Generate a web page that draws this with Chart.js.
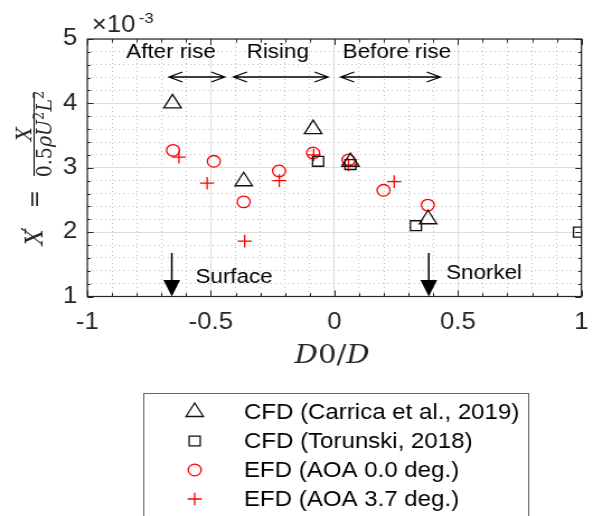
<!DOCTYPE html>
<html lang="en">
<head>
  <meta charset="UTF-8">
  <script src="https://cdn.jsdelivr.net/npm/chart.js"></script>
  <title>X' vs D0/D</title>
  <style>
    body { margin: 0; background: #fff; }
    /* the source figure is slightly wider than tall in its glyphs, so stretch horizontally */
    #wrap {
      width: 530px;
      height: 516px;
      transform: scaleX(1.11887);
      transform-origin: 0 0;
    }
  </style>
</head>
<body>
<div id="wrap"><canvas id="myChart" width="530" height="516"></canvas></div>
<script>
  // values, y in units of 1e-3
  const carricaX = [-0.655, -0.367, -0.086, 0.065, 0.379];
  const carricaY = [4.00, 2.79, 3.60, 3.09, 2.20];
  const torunskiX = [-0.066, 0.065, 0.33, 0.99];
  const torunskiY = [3.10, 3.05, 2.10, 2.00];
  const aoa0X = [-0.653, -0.488, -0.367, -0.224, -0.086, 0.057, 0.199, 0.378];
  const aoa0Y = [3.27, 3.10, 2.47, 2.95, 3.23, 3.12, 2.65, 2.42];
  const aoa37X = [-0.629, -0.515, -0.363, -0.223, -0.084, 0.057, 0.242];
  const aoa37Y = [3.165, 2.76, 1.86, 2.80, 3.20, 3.045, 2.785];

  const seriesNames = ['CFD (Carrica et al., 2019)', 'CFD (Torunski, 2018)', 'EFD (AOA 0.0 deg.)', 'EFD (AOA 3.7 deg.)'];
  const xTickLabels = [-1, -0.5, 0, 0.5, 1];
  const yTickLabels = [1, 2, 3, 4, 5];
  const phaseNames = ['After rise', 'Rising', 'Before rise'];
  const markNames = ['Surface', 'Snorkel'];

  const toPoints = (xs, ys) => xs.map((v, i) => ({ x: v, y: ys[i] }));
  const near = (v, list) => list.some(t => Math.abs(t - v) < 1e-6);

  const AX = '#262626';
  const SANS = '"Liberation Sans", Arial, sans-serif';
  const SERIF = '"DejaVu Serif", serif';

  // annotation placement in data units
  const phaseAt = [
    { cx: -0.661, from: -0.669, to: -0.444 },
    { cx: -0.229, from: -0.408, to: -0.026 },
    { cx: 0.253, from: 0.026, to: 0.428 }
  ];
  const markAt = [
    { ax: -0.658, tx: -0.562, ty: 1.21 },
    { ax: 0.382, tx: 0.452, ty: 1.27 }
  ];

  function arrowHead(ctx, x, y, dir) {
    ctx.moveTo(x - dir * 12, y - 5);
    ctx.lineTo(x, y);
    ctx.lineTo(x - dir * 12, y + 5);
  }

  const boxPlugin = {
    id: 'box',
    beforeDatasetsDraw(chart) {
      const { ctx, chartArea: a, scales: { x, y } } = chart;
      ctx.save();
      ctx.strokeStyle = AX;
      ctx.lineWidth = 1;
      ctx.beginPath();
      x.ticks.forEach(t => {
        const px = Math.round(x.getPixelForValue(t.value)) + 0.5;
        const len = near(t.value, xTickLabels) ? 6 : 3.5;
        ctx.moveTo(px, a.bottom); ctx.lineTo(px, a.bottom - len);
        ctx.moveTo(px, a.top); ctx.lineTo(px, a.top + len);
      });
      y.ticks.forEach(t => {
        const py = Math.round(y.getPixelForValue(t.value)) + 0.5;
        const len = near(t.value, yTickLabels) ? 5.5 : 3;
        ctx.moveTo(a.left, py); ctx.lineTo(a.left + len, py);
        ctx.moveTo(a.right, py); ctx.lineTo(a.right - len, py);
      });
      ctx.stroke();
      ctx.lineWidth = 1.2;
      ctx.strokeRect(a.left, a.top, a.right - a.left, a.bottom - a.top);
      ctx.restore();
    },
    afterDraw(chart) {
      const { ctx, chartArea: a, scales: { x, y } } = chart;
      ctx.save();
      ctx.fillStyle = '#000';
      ctx.strokeStyle = '#000';

      // phase labels with double arrows
      ctx.font = '20px ' + SANS;
      ctx.textAlign = 'center';
      ctx.textBaseline = 'alphabetic';
      ctx.lineWidth = 1.3;
      const ay = y.getPixelForValue(4.41);
      phaseAt.forEach((p, i) => {
        ctx.fillText(phaseNames[i], x.getPixelForValue(p.cx), y.getPixelForValue(4.71));
        const x0 = x.getPixelForValue(p.from), x1 = x.getPixelForValue(p.to);
        ctx.beginPath();
        ctx.moveTo(x0, ay); ctx.lineTo(x1, ay);
        arrowHead(ctx, x0, ay, -1);
        arrowHead(ctx, x1, ay, 1);
        ctx.stroke();
      });

      // surface / snorkel arrows
      ctx.textAlign = 'left';
      markAt.forEach((m, i) => {
        const px = x.getPixelForValue(m.ax);
        const top = y.getPixelForValue(1.676), head = y.getPixelForValue(1.257);
        ctx.lineWidth = 1.5;
        ctx.beginPath();
        ctx.moveTo(px, top); ctx.lineTo(px, head);
        ctx.stroke();
        ctx.beginPath();
        ctx.moveTo(px - 7.5, head); ctx.lineTo(px + 7.5, head); ctx.lineTo(px, a.bottom);
        ctx.closePath();
        ctx.fill();
        ctx.fillText(markNames[i], x.getPixelForValue(m.tx), y.getPixelForValue(m.ty));
      });

      // exponent label
      ctx.fillStyle = AX;
      ctx.font = '23px ' + SANS;
      ctx.fillText('\u00d710', 82, 32);
      ctx.font = '15px ' + SANS;
      ctx.fillText('-3', 124, 23);

      // y title: X' = X / (0.5 rho U^2 L^2)
      ctx.save();
      ctx.translate(37.5, 245);
      ctx.rotate(-Math.PI / 2);
      ctx.textAlign = 'left';
      ctx.font = 'italic 22px ' + SERIF;
      ctx.fillText('X', 0, 0);
      ctx.font = '22px ' + SERIF;
      ctx.fillText('\u2032', 13, -3);
      ctx.textAlign = 'center';
      ctx.fillText('=', 46, 0);
      ctx.lineWidth = 1;
      ctx.beginPath();
      ctx.moveTo(69, -7); ctx.lineTo(153, -7);
      ctx.stroke();
      ctx.font = 'italic 19px ' + SERIF;
      ctx.fillText('X', 111, -10);
      const parts = [
        ['0.5', '19px ', 0], ['\u03c1', 'italic 19px ', 0], ['U', 'italic 19px ', 0],
        ['2', '13px ', -7], ['L', 'italic 19px ', 0], ['2', '13px ', -7]
      ];
      let total = 0;
      parts.forEach(p => { ctx.font = p[1] + SERIF; total += ctx.measureText(p[0]).width; });
      let u = 111 - total / 2;
      ctx.textAlign = 'left';
      parts.forEach(p => {
        ctx.font = p[1] + SERIF;
        ctx.fillText(p[0], u, 8.5 + p[2]);
        u += ctx.measureText(p[0]).width;
      });
      ctx.restore();

      // x title: D0/D
      const xt = [['D', 'italic 26px '], ['0/', '26px '], ['D', 'italic 26px ']];
      let w = 0;
      xt.forEach(p => { ctx.font = p[1] + SERIF; w += ctx.measureText(p[0]).width; });
      let cx = (a.left + a.right) / 2 - 2 - w / 2;
      ctx.textAlign = 'left';
      xt.forEach(p => {
        ctx.font = p[1] + SERIF;
        ctx.fillText(p[0], cx, 363);
        cx += ctx.measureText(p[0]).width;
      });

      // legend box
      ctx.strokeStyle = '#666';
      ctx.lineWidth = 1;
      ctx.strokeRect(128.5, 393.5, 344, 140);
      ctx.textBaseline = 'middle';
      chart.data.datasets.forEach((ds, i) => {
        const yy = 412 + i * 29;
        ctx.strokeStyle = ds.borderColor;
        ctx.fillStyle = 'rgba(0,0,0,0)';
        ctx.lineWidth = ds.borderWidth;
        Chart.helpers.drawPoint(ctx, { pointStyle: ds.pointStyle, radius: ds.pointRadius, rotation: 0, borderWidth: ds.borderWidth }, 174, yy);
        ctx.fillStyle = '#000';
        ctx.font = '21.5px ' + SANS;
        ctx.fillText(seriesNames[i], 218, yy + 1);
      });
      ctx.restore();
    }
  };

  const gridColor = (ctx, majors) => (ctx.tick && near(ctx.tick.value, majors)) ? '#dcdcdc' : '#bdbdbd';
  const gridDash = (ctx, majors) => (ctx.tick && near(ctx.tick.value, majors)) ? [] : [1, 3];

  new Chart(document.getElementById('myChart'), {
    type: 'scatter',
    data: {
      datasets: [
        { label: seriesNames[0], data: toPoints(carricaX, carricaY), pointStyle: 'triangle', pointRadius: 9, borderColor: '#111', backgroundColor: 'rgba(0,0,0,0)', borderWidth: 1.3 },
        { label: seriesNames[1], data: toPoints(torunskiX, torunskiY), pointStyle: 'rect', pointRadius: 7, borderColor: '#111', backgroundColor: 'rgba(0,0,0,0)', borderWidth: 1.3 },
        { label: seriesNames[2], data: toPoints(aoa0X, aoa0Y), pointStyle: 'circle', pointRadius: 5.8, borderColor: '#ff0000', backgroundColor: 'rgba(0,0,0,0)', borderWidth: 1.3 },
        { label: seriesNames[3], data: toPoints(aoa37X, aoa37Y), pointStyle: 'cross', pointRadius: 6.3, borderColor: '#ff0000', backgroundColor: 'rgba(0,0,0,0)', borderWidth: 1.3 }
      ]
    },
    options: {
      responsive: false,
      animation: false,
      devicePixelRatio: 1,
      events: [],
      layout: { padding: { left: 0, right: 7, top: 39, bottom: 0 } },
      plugins: { legend: { display: false }, tooltip: { enabled: false } },
      scales: {
        x: {
          type: 'linear', min: -1, max: 1,
          afterFit: s => { s.height = 219.5; s.paddingLeft = 0; s.paddingRight = 0; },
          ticks: {
            stepSize: 0.1, autoSkip: false, maxRotation: 0, minRotation: 0, padding: 12,
            color: AX, font: { family: SANS, size: 23 },
            callback: v => near(v, xTickLabels) ? String(Math.round(v * 10) / 10) : ''
          },
          grid: { drawTicks: false, lineWidth: 1, color: c => gridColor(c, xTickLabels) },
          border: { display: false, dash: c => gridDash(c, xTickLabels) }
        },
        y: {
          type: 'linear', min: 1, max: 5,
          afterFit: s => { s.width = 78; s.paddingTop = 0; s.paddingBottom = 0; },
          ticks: {
            stepSize: 0.2, autoSkip: false, padding: 9,
            color: AX, font: { family: SANS, size: 23 },
            callback: v => near(v, yTickLabels) ? String(Math.round(v)) : ''
          },
          grid: { drawTicks: false, lineWidth: 1, color: c => gridColor(c, yTickLabels) },
          border: { display: false, dash: c => gridDash(c, yTickLabels) }
        }
      }
    },
    plugins: [boxPlugin]
  });
</script>
</body>
</html>
